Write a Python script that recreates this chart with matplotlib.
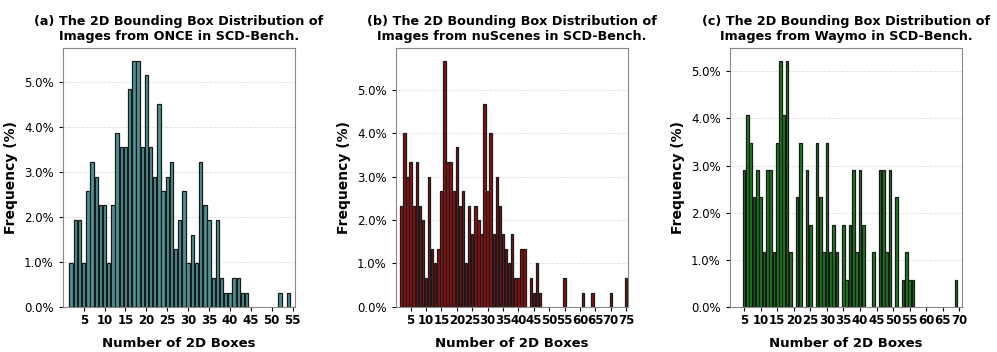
import numpy as np
import matplotlib
matplotlib.use("Agg")
import matplotlib.pyplot as plt
from matplotlib.ticker import FuncFormatter

# ---------------- data (frequency in %) ----------------
once_boxes = [2, 3, 4, 5, 6, 7, 8, 9, 10, 11, 12, 13, 14, 15, 16, 17, 18, 19, 20,
              21, 22, 23, 24, 25, 26, 27, 28, 29, 30, 31, 32, 33, 34, 35, 36, 37,
              38, 39, 40, 41, 42, 43, 44, 52, 54]
once_freq = [0.97, 1.94, 1.94, 0.97, 2.58, 3.23, 2.90, 2.26, 2.26, 0.97, 2.26, 3.87,
             3.55, 3.55, 4.84, 5.48, 5.48, 3.55, 5.16, 3.55, 2.90, 4.52, 2.58, 2.90,
             3.23, 1.29, 1.94, 2.58, 0.97, 1.61, 0.97, 3.23, 2.26, 1.94, 0.65, 1.94,
             0.65, 0.32, 0.32, 0.65, 0.65, 0.32, 0.32, 0.32, 0.32]

nusc_boxes = [2, 3, 4, 5, 6, 7, 8, 9, 10, 11, 12, 13, 14, 15, 16, 17, 18, 19, 20,
              21, 22, 23, 24, 25, 26, 27, 28, 29, 30, 31, 32, 33, 34, 35, 36, 37,
              38, 39, 40, 41, 42, 44, 45, 46, 47, 55, 61, 64, 70, 75]
nusc_freq = [2.33, 4.00, 3.00, 3.33, 2.33, 3.33, 2.33, 2.00, 0.67, 3.00, 1.33, 1.00,
             1.33, 2.67, 5.67, 3.33, 3.33, 2.67, 3.67, 2.33, 2.67, 1.00, 2.33, 1.67,
             2.33, 2.00, 1.67, 4.67, 2.67, 4.00, 1.67, 3.00, 2.33, 1.67, 1.33, 1.00,
             1.67, 0.67, 0.67, 1.33, 1.33, 0.67, 0.33, 1.00, 0.33, 0.67, 0.33, 0.33,
             0.33, 0.67]

waymo_boxes = [5, 6, 7, 8, 9, 10, 11, 12, 13, 14, 15, 16, 17, 18, 19, 21, 22, 24,
               25, 27, 28, 29, 30, 31, 32, 33, 35, 36, 37, 38, 39, 40, 41, 44, 46,
               47, 48, 49, 51, 53, 54, 55, 56, 69]
waymo_freq = [2.91, 4.07, 3.49, 2.33, 2.91, 2.33, 1.16, 2.91, 2.91, 1.16, 3.49, 5.23,
              4.07, 5.23, 1.16, 2.33, 3.49, 2.91, 1.74, 3.49, 2.33, 1.16, 3.49, 1.16,
              1.74, 1.16, 1.74, 0.58, 1.74, 2.91, 1.16, 2.91, 1.74, 1.16, 2.91, 2.91,
              1.16, 2.91, 2.33, 0.58, 1.16, 0.58, 0.58, 0.58]

titles = ["(a) The 2D Bounding Box Distribution of\nImages from ONCE in SCD-Bench.",
          "(b) The 2D Bounding Box Distribution of\nImages from nuScenes in SCD-Bench.",
          "(c) The 2D Bounding Box Distribution of\nImages from Waymo in SCD-Bench."]
xtick_sets = [list(range(5, 56, 5)), list(range(5, 76, 5)), list(range(5, 71, 5))]
ytick_vals = [0, 1, 2, 3, 4, 5]

# ---------------- style ----------------
colors = ["#4E9294", "#8E1010", "#1C7E1C"]
xlims = [(0.0, 55.6), (0.2, 75.6), (0.7, 70.8)]

fig = plt.figure(figsize=(9.97, 3.52), dpi=100)
lefts = [0.063, 0.397, 0.732]
width = 0.233
bottom = 0.128
height = 0.735

datasets = [(once_boxes, once_freq), (nusc_boxes, nusc_freq), (waymo_boxes, waymo_freq)]
for i, (bx, fr) in enumerate(datasets):
    ax = fig.add_axes([lefts[i], bottom, width, height])
    ax.bar(bx, fr, width=0.8, color=colors[i], edgecolor="#1a1a1a", linewidth=0.9)
    ax.set_xlim(*xlims[i])
    ax.set_ylim(0, max(fr) * 1.05)
    ax.set_xticks(xtick_sets[i])
    ax.set_xticklabels([str(t) for t in xtick_sets[i]], fontweight="bold", fontsize=8.5)
    ax.set_yticks(ytick_vals)
    ax.yaxis.set_major_formatter(FuncFormatter(lambda v, p: f"{v:.1f}%"))
    ax.tick_params(axis="y", labelsize=8.5, length=3)
    ax.tick_params(axis="x", length=3, pad=2)
    ax.grid(axis="y", linestyle="--", alpha=0.4, linewidth=0.6)
    ax.set_axisbelow(True)
    for s in ax.spines.values():
        s.set_color("#888888")
    ax.set_title(titles[i], fontsize=9.2, fontweight="bold", pad=6)
    ax.set_xlabel("Number of 2D Boxes", fontsize=9.5, fontweight="bold", labelpad=7)
    ax.set_ylabel("Frequency (%)", fontsize=10, fontweight="bold")

fig.savefig("out.png", dpi=100)
